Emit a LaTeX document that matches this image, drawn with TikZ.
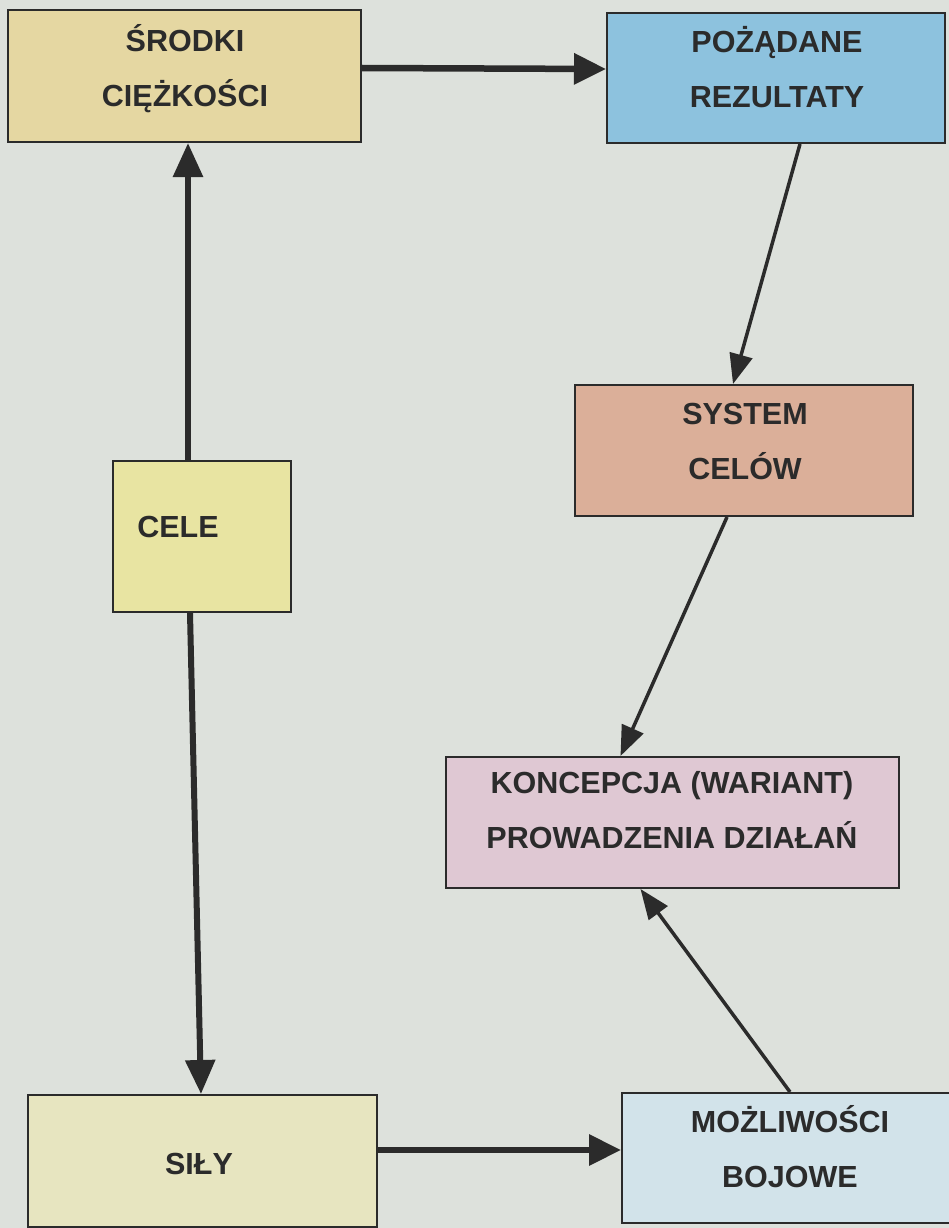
\documentclass[tikz,border=0pt]{standalone}
\usepackage{fontspec}
\setmainfont{Liberation Sans}
\usetikzlibrary{arrows.meta}

% colours of the boxes and the page
\definecolor{paper}{HTML}{DDE1DC}
\definecolor{ink}{HTML}{2B2B2B}
\definecolor{fillSrodki}{HTML}{E5D7A2}
\definecolor{fillRez}{HTML}{8DC2DE}
\definecolor{fillSys}{HTML}{DBAF99}
\definecolor{fillCele}{HTML}{E8E4A2}
\definecolor{fillKonc}{HTML}{DFC8D3}
\definecolor{fillSily}{HTML}{E7E5C0}
\definecolor{fillMoz}{HTML}{D2E3EA}

% struts giving every label the same height and depth
\newcommand\hstrt{\rule{0pt}{30pt}}
\newcommand\dstrt{\rule[-8pt]{0pt}{8pt}}

\tikzset{
  box/.style={draw=ink, line width=2pt, inner sep=0pt},
  lbl/.style={align=center, inner sep=0pt, text=ink,
    font=\bfseries\fontsize{30.5pt}{55pt}\selectfont},
  thick arrow/.style={draw=ink, line width=6.5pt,
    -{Triangle[length=32pt, width=30pt]}},
  mid arrow/.style={draw=ink, line width=6pt,
    -{Triangle[length=34pt, width=29pt]}},
  thin arrow/.style={draw=ink, line width=3.5pt,
    -{Triangle[length=30pt, width=23pt]}},
}

\begin{document}
\begin{tikzpicture}[x=1pt, y=-1pt]
  \useasboundingbox (0,0) rectangle (949,1228);
  \fill[paper] (0,0) rectangle (949,1228);

  % boxes
  \node[box, fill=fillSrodki, minimum width=353pt, minimum height=132pt] (srodki) at (184.5,76) {};
  \node[box, fill=fillRez,    minimum width=338pt, minimum height=130pt] (rez)    at (776,78) {};
  \node[box, fill=fillSys,    minimum width=338pt, minimum height=131pt] (sys)    at (744,450.5) {};
  \node[box, fill=fillCele,   minimum width=178pt, minimum height=151pt] (cele)   at (202,536.5) {};
  \node[box, fill=fillKonc,   minimum width=453pt, minimum height=131pt] (konc)   at (672.5,822.5) {};
  \node[box, fill=fillSily,   minimum width=349pt, minimum height=132pt] (sily)   at (202.5,1161) {};
  \node[box, fill=fillMoz,    minimum width=336pt, minimum height=130pt] (moz)    at (790,1158) {};

  % labels
  \node[lbl] (srodkiT) at (185,68.5)  {\hstrt ŚRODKI\\CIĘŻKOŚCI\dstrt};
  \node[lbl] (rezT)    at (777,69.5)  {\hstrt POŻĄDANE\\REZULTATY\dstrt};
  \node[lbl] (sysT)    at (745,440.5) {\hstrt SYSTEM\\CELÓW\dstrt};
  \node[lbl] (celeT)   at (178,526)   {\hstrt CELE\dstrt};
  \node[lbl] (koncT)   at (672,810)   {\hstrt KONCEPCJA (WARIANT)\\PROWADZENIA DZIAŁAŃ\dstrt};
  \node[lbl] (silyT)   at (199,1163)  {\hstrt SIŁY\dstrt};
  \node[lbl] (mozT)    at (790,1149)  {\hstrt MOŻLIWOŚCI\\BOJOWE\dstrt};

  % connectors
  \draw[thick arrow] ([yshift=8pt]srodki.east) -- ([yshift=9pt]rez.west);
  \draw[thick arrow] ([yshift=11pt]sily.east) -- ([yshift=8pt]moz.west);
  \draw[mid arrow] ([xshift=-14pt]cele.north) -- ([xshift=3.5pt]srodki.south);
  \draw[mid arrow] ([xshift=-12pt]cele.south) -- ([xshift=-1.5pt]sily.north);
  \draw[thin arrow] ([xshift=24pt]rez.south) -- ([xshift=-11pt]sys.north);
  \draw[thin arrow] ([xshift=-17pt]sys.south) -- ([xshift=-52pt]konc.north);
  \draw[thin arrow] (moz.north) -- ([xshift=-32pt]konc.south);
\end{tikzpicture}
\end{document}
